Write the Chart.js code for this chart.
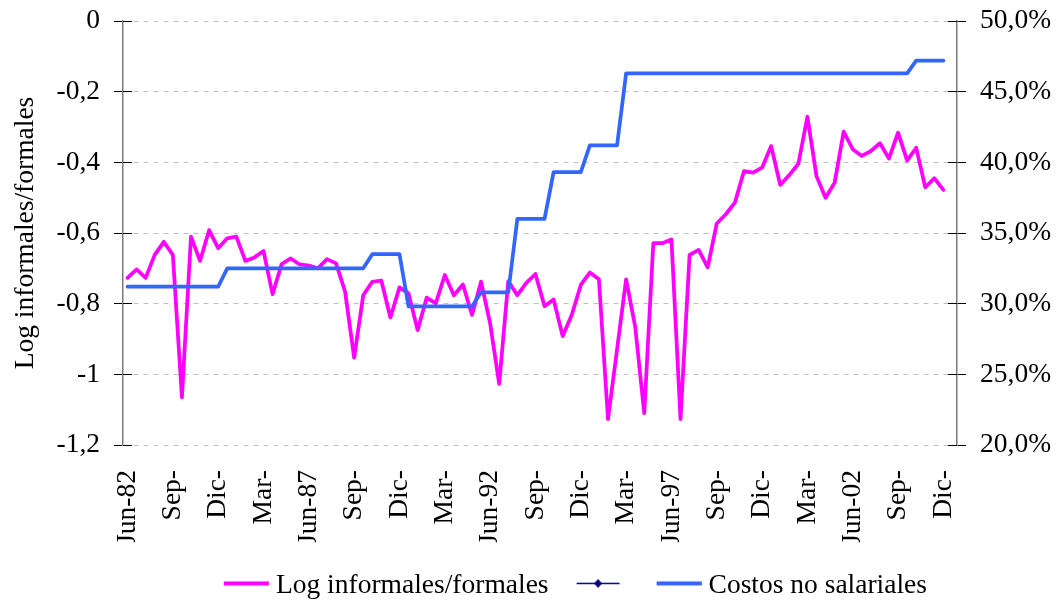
<!DOCTYPE html>
<html lang="es">
<head>
<meta charset="utf-8">
<title>Log informales/formales y costos no salariales</title>
<script src="https://cdn.jsdelivr.net/npm/chart.js@4/dist/chart.umd.min.js"></script>
<style>
  html, body { margin: 0; padding: 0; background: #ffffff; }
  #chart { display: block; }
</style>
</head>
<body>
<canvas id="chart" width="1064" height="601"></canvas>
<script>
// Quarterly categories, Jun-82 .. Mar-05
const quarters = [
  'Jun-82','Sep-82','Dic-82',
  'Mar-83','Jun-83','Sep-83','Dic-83',
  'Mar-84','Jun-84','Sep-84','Dic-84',
  'Mar-85','Jun-85','Sep-85','Dic-85',
  'Mar-86','Jun-86','Sep-86','Dic-86',
  'Mar-87','Jun-87','Sep-87','Dic-87',
  'Mar-88','Jun-88','Sep-88','Dic-88',
  'Mar-89','Jun-89','Sep-89','Dic-89',
  'Mar-90','Jun-90','Sep-90','Dic-90',
  'Mar-91','Jun-91','Sep-91','Dic-91',
  'Mar-92','Jun-92','Sep-92','Dic-92',
  'Mar-93','Jun-93','Sep-93','Dic-93',
  'Mar-94','Jun-94','Sep-94','Dic-94',
  'Mar-95','Jun-95','Sep-95','Dic-95',
  'Mar-96','Jun-96','Sep-96','Dic-96',
  'Mar-97','Jun-97','Sep-97','Dic-97',
  'Mar-98','Jun-98','Sep-98','Dic-98',
  'Mar-99','Jun-99','Sep-99','Dic-99',
  'Mar-00','Jun-00','Sep-00','Dic-00',
  'Mar-01','Jun-01','Sep-01','Dic-01',
  'Mar-02','Jun-02','Sep-02','Dic-02',
  'Mar-03','Jun-03','Sep-03','Dic-03',
  'Mar-04','Jun-04','Sep-04','Dic-04',
  'Mar-05'
];

// Labels printed under every fifth quarter
const tickLabels = [
  'Jun-82','Sep-','Dic-','Mar-','Jun-87','Sep-','Dic-','Mar-','Jun-92','Sep-',
  'Dic-','Mar-','Jun-97','Sep-','Dic-','Mar-','Jun-02','Sep-','Dic-'
];
const tickEvery = 5;

// Log of informal / formal employment (left axis)
const logRatio = [
  -0.727, -0.703, -0.727, -0.662, -0.625, -0.662, -1.065, -0.610, -0.679, -0.592,
  -0.643, -0.615, -0.610, -0.679, -0.669, -0.651, -0.773, -0.688, -0.672, -0.689,
  -0.692, -0.700, -0.674, -0.686, -0.766, -0.953, -0.776, -0.738, -0.735, -0.839,
  -0.754, -0.771, -0.875, -0.783, -0.799, -0.719, -0.776, -0.746, -0.832, -0.738,
  -0.856, -1.027, -0.736, -0.776, -0.741, -0.716, -0.807, -0.788, -0.892, -0.832,
  -0.747, -0.712, -0.731, -1.127, -0.930, -0.731, -0.865, -1.110, -0.629, -0.629,
  -0.618, -1.127, -0.662, -0.648, -0.697, -0.573, -0.547, -0.514, -0.425, -0.429,
  -0.415, -0.354, -0.464, -0.436, -0.404, -0.271, -0.439, -0.500, -0.458, -0.313,
  -0.363, -0.382, -0.368, -0.346, -0.389, -0.316, -0.395, -0.359, -0.471, -0.445,
  -0.478, null
];

// Non-wage labour costs, % (right axis)
const nonWageCosts = [
  31.2, 31.2, 31.2, 31.2, 31.2, 31.2, 31.2, 31.2, 31.2, 31.2,
  31.2, 32.5, 32.5, 32.5, 32.5, 32.5, 32.5, 32.5, 32.5, 32.5,
  32.5, 32.5, 32.5, 32.5, 32.5, 32.5, 32.5, 33.5, 33.5, 33.5,
  33.5, 29.8, 29.8, 29.8, 29.8, 29.8, 29.8, 29.8, 29.8, 30.8,
  30.8, 30.8, 30.8, 36.0, 36.0, 36.0, 36.0, 39.3, 39.3, 39.3,
  39.3, 41.2, 41.2, 41.2, 41.2, 46.3, 46.3, 46.3, 46.3, 46.3,
  46.3, 46.3, 46.3, 46.3, 46.3, 46.3, 46.3, 46.3, 46.3, 46.3,
  46.3, 46.3, 46.3, 46.3, 46.3, 46.3, 46.3, 46.3, 46.3, 46.3,
  46.3, 46.3, 46.3, 46.3, 46.3, 46.3, 46.3, 47.2, 47.2, 47.2,
  47.2, null
];

// Unnamed series that only appears in the legend
const unnamedSeries = [];

const seriesNames = ['Log informales/formales', '', 'Costos no salariales'];
const seriesColors = ['#ff00ff', '#000080', '#3366ff'];

const FONT = 'Liberation Serif';
const FONT_SIZE = 27.5;
Chart.defaults.font.family = FONT;
Chart.defaults.font.size = FONT_SIZE;
Chart.defaults.color = '#000000';

// Legend swatches: a short line, optionally with a diamond marker
function swatch(color, lineWidth, len, diamond) {
  const c = document.createElement('canvas');
  c.width = 50; c.height = 14;
  const g = c.getContext('2d');
  const y = 4.5;
  const x0 = 4.875;
  g.strokeStyle = color;
  g.lineWidth = lineWidth;
  g.lineCap = 'butt';
  g.beginPath();
  g.moveTo(x0, y);
  g.lineTo(x0 + len, y);
  g.stroke();
  if (diamond) {
    const cx = x0 + len / 2;
    g.fillStyle = color;
    g.beginPath();
    g.moveTo(cx, y - 4.5);
    g.lineTo(cx + 4, y);
    g.lineTo(cx, y + 4.5);
    g.lineTo(cx - 4, y);
    g.closePath();
    g.fill();
  }
  return c;
}
const swatches = [
  swatch(seriesColors[0], 4, 45, false),
  swatch(seriesColors[1], 1.5, 43, true),
  swatch(seriesColors[2], 4, 45, false)
];

const alignPx = (p) => Math.round(p - 0.5) + 0.5;

// Tick marks that cross the value axes (the inner half)
const crossTicks = {
  id: 'crossTicks',
  beforeDatasetsDraw(chart) {
    const { ctx, chartArea } = chart;
    ctx.save();
    ctx.strokeStyle = '#000000';
    ctx.lineWidth = 1;
    [['y', chartArea.left, 9], ['y2', chartArea.right, -9]].forEach(([id, x0, dx]) => {
      const s = chart.scales[id];
      s.ticks.forEach((t, i) => {
        const yy = alignPx(s.getPixelForTick(i));
        ctx.beginPath();
        ctx.moveTo(x0, yy);
        ctx.lineTo(x0 + dx, yy);
        ctx.stroke();
      });
    });
    ctx.restore();
  }
};

const commaNum = (v) => {
  let r = Math.round(v * 10) / 10;
  if (Object.is(r, -0)) r = 0;
  return String(r).replace('.', ',');
};

// Value axes: fixed widths, and no extra room reserved above/below the plot
const fitValueAxis = (width) => (s) => {
  s.width = width;
  s.paddingTop = 0;
  s.paddingBottom = 0;
};

new Chart(document.getElementById('chart'), {
  type: 'line',
  data: {
    labels: quarters,
    datasets: [
      {
        label: seriesNames[0],
        data: logRatio,
        yAxisID: 'y',
        borderColor: seriesColors[0],
        backgroundColor: seriesColors[0],
        borderWidth: 3.75,
        pointRadius: 0,
        tension: 0,
        borderJoinStyle: 'round',
        borderCapStyle: 'round',
        order: 1
      },
      {
        label: seriesNames[1],
        data: unnamedSeries,
        yAxisID: 'y',
        borderColor: seriesColors[1],
        backgroundColor: seriesColors[1],
        borderWidth: 1.5,
        pointRadius: 0,
        order: 2
      },
      {
        label: seriesNames[2],
        data: nonWageCosts,
        yAxisID: 'y2',
        borderColor: seriesColors[2],
        backgroundColor: seriesColors[2],
        borderWidth: 3.75,
        pointRadius: 0,
        tension: 0,
        borderJoinStyle: 'round',
        borderCapStyle: 'round',
        order: 0
      }
    ]
  },
  options: {
    responsive: false,
    animation: false,
    devicePixelRatio: 1,
    layout: { padding: { top: 21, left: 0, right: 0, bottom: -8.65 } },
    plugins: {
      tooltip: { enabled: false },
      legend: {
        position: 'bottom',
        fullSize: false,
        align: 'end',
        labels: {
          usePointStyle: true,
          pointStyleWidth: 36.25,
          padding: 30,
          font: { family: FONT, size: FONT_SIZE },
          color: '#000000',
          generateLabels: (chart) => chart.data.datasets.map((ds, i) => ({
            text: ds.label,
            pointStyle: swatches[i],
            fillStyle: 'transparent',
            strokeStyle: 'transparent',
            lineWidth: 0,
            fontColor: '#000000',
            hidden: false,
            datasetIndex: i
          }))
        }
      }
    },
    scales: {
      x: {
        type: 'category',
        offset: true,
        grid: { display: false, drawTicks: false },
        border: { display: false },
        ticks: {
          autoSkip: false,
          minRotation: 90,
          maxRotation: 90,
          padding: 25,
          font: { family: FONT, size: FONT_SIZE },
          color: '#000000',
          callback: (v, i) => (i % tickEvery === 0 ? (tickLabels[i / tickEvery] || '') : '')
        },
        afterFit: (s) => { s.height = 97.15; }
      },
      y: {
        position: 'left',
        min: -1.2,
        max: 0,
        ticks: {
          stepSize: 0.2,
          padding: 14,
          font: { family: FONT, size: FONT_SIZE },
          color: '#000000',
          callback: (v) => commaNum(v)
        },
        grid: {
          color: '#c0c0c0',
          lineWidth: 1,
          tickLength: 9,
          tickColor: '#000000',
          tickWidth: 1,
          tickBorderDash: []
        },
        border: { display: true, color: '#7a7a7a', width: 1.5, dash: [5, 5] },
        title: {
          display: true,
          text: 'Log informales/formales',
          font: { family: FONT, size: FONT_SIZE },
          color: '#000000',
          padding: 9
        },
        afterFit: fitValueAxis(123)
      },
      y2: {
        position: 'right',
        min: 20,
        max: 50,
        ticks: {
          stepSize: 5,
          padding: 14,
          font: { family: FONT, size: FONT_SIZE },
          color: '#000000',
          callback: (v) => v.toFixed(1).replace('.', ',') + '%'
        },
        grid: {
          drawOnChartArea: false,
          tickLength: 9,
          tickColor: '#000000',
          tickWidth: 1
        },
        border: { display: true, color: '#7a7a7a', width: 1.5 },
        afterFit: fitValueAxis(107)
      }
    }
  },
  plugins: [crossTicks]
});
</script>
</body>
</html>
